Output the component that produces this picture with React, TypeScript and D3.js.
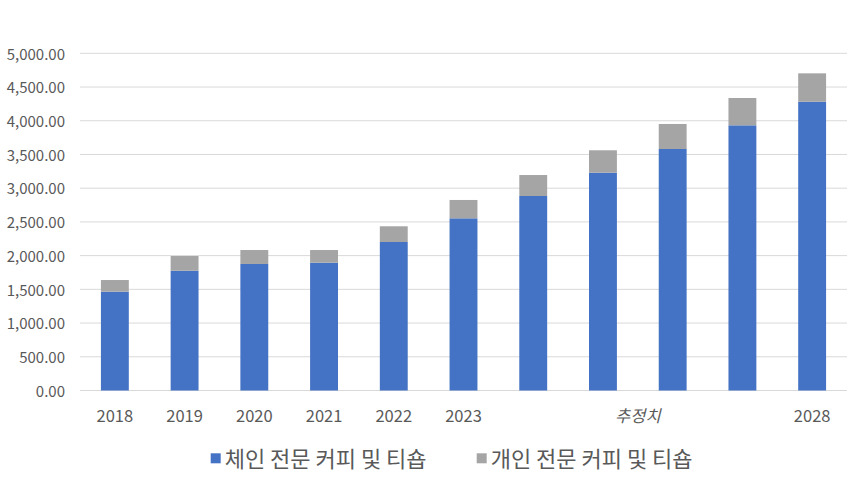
import React from "react";
import * as d3 from "d3";

const categories = ["2018","2019","2020","2021","2022","2023","2024","2025","2026","2027","2028"];
const tickLabels = ["2018","2019","2020","2021","2022","2023","","","","","2028"];
const chainValues = [1465, 1776, 1876, 1895, 2202, 2553, 2884, 3230, 3581, 3932, 4282];
const indepValues = [173, 218, 207, 188, 233, 272, 311, 332, 371, 405, 421];
const seriesNames = ["체인 전문 커피 및 티숍", "개인 전문 커피 및 티숍"];
const seriesColors = ["#4472C4", "#A5A5A5"];
const yTicks = [0, 500, 1000, 1500, 2000, 2500, 3000, 3500, 4000, 4500, 5000];
const estimateLabel = "추정치";
const estimateRange = ["2024", "2027"];

const W = 853, H = 483;
const font = "'Noto Sans CJK KR', 'Noto Sans', sans-serif";

export default function App() {
  const x = d3.scaleBand().domain(categories).range([80, 847]).paddingInner(0.6).paddingOuter(0.3);
  const y = d3.scaleLinear().domain([0, 5000]).range([390.5, 53.3]);
  const fmt = d3.format(",.2f");
  const data = categories.map((c, i) => ({ c, a: chainValues[i], b: indepValues[i] }));
  const stack = d3.stack<any>().keys(["a", "b"])(data);
  const estX = ((x(estimateRange[0]) as number) + (x(estimateRange[1]) as number) + x.bandwidth()) / 2;

  return (
    <svg width={W} height={H} style={{ position: "absolute", left: 0, top: 0, background: "#fff" }} fontFamily={font}>
      {yTicks.map((t) => (
        <g key={t}>
          <line x1={80} x2={847} y1={y(t)} y2={y(t)} stroke="#D9D9D9" strokeWidth={1} />
          <text x={65} y={y(t) + 1} dy="0.35em" textAnchor="end" fontSize={15} fill="#595959">{fmt(t)}</text>
        </g>
      ))}
      {stack.map((s, si) => (
        <g key={si} fill={seriesColors[si]}>
          {s.map((d: any, i: number) => (
            <rect key={i} x={x(categories[i])} width={x.bandwidth()} y={y(d[1])} height={y(d[0]) - y(d[1])} />
          ))}
        </g>
      ))}
      {categories.map((c, i) => tickLabels[i] ? (
        <text key={c} x={(x(c) as number) + x.bandwidth() / 2} y={416} dy="0.35em" textAnchor="middle" fontSize={16.5} fill="#595959">{tickLabels[i]}</text>
      ) : null)}
      <text x={estX} y={416} dy="0.35em" textAnchor="middle" fontSize={16.5} fill="#595959" fontStyle="italic">{estimateLabel}</text>
      {seriesNames.map((n, i) => {
        const lx = [210.7, 476.7][i];
        return (
          <g key={n}>
            <rect x={lx} y={453.3} width={10} height={10} fill={seriesColors[i]} />
            <text x={lx + 14} y={459.5} dy="0.35em" fontSize={22} fill="#595959">{n}</text>
          </g>
        );
      })}
    </svg>
  );
}
